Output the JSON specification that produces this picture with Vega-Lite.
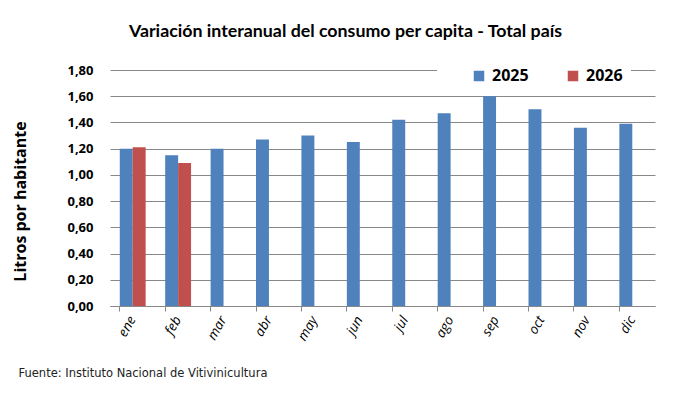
{
  "$schema": "https://vega.github.io/schema/vega-lite/v6.json",
  "width": 545,
  "height": 236,
  "autosize": {"type": "none"},
  "padding": {"left": 110, "top": 70, "right": 35, "bottom": 87},
  "background": "white",
  "config": {
    "locale": {"number": {"decimal": ",", "thousands": ".", "grouping": [3], "currency": ["", ""]}},
    "view": {"stroke": null},
    "font": "Lato"
  },
  "title": {
    "text": "Variación interanual del consumo per capita - Total país",
    "font": "Lato",
    "fontSize": 17.8,
    "fontWeight": "bold",
    "color": "black",
    "anchor": "middle",
    "frame": "group",
    "dx": -37,
    "dy": 9,
    "offset": 28
  },
  "data": {
    "values": [
      {"mes": "ene", "anio": "2025", "valor": 1.2},
      {"mes": "ene", "anio": "2026", "valor": 1.21},
      {"mes": "feb", "anio": "2025", "valor": 1.15},
      {"mes": "feb", "anio": "2026", "valor": 1.09},
      {"mes": "mar", "anio": "2025", "valor": 1.2},
      {"mes": "abr", "anio": "2025", "valor": 1.27},
      {"mes": "may", "anio": "2025", "valor": 1.3},
      {"mes": "jun", "anio": "2025", "valor": 1.25},
      {"mes": "jul", "anio": "2025", "valor": 1.42},
      {"mes": "ago", "anio": "2025", "valor": 1.47},
      {"mes": "sep", "anio": "2025", "valor": 1.6},
      {"mes": "oct", "anio": "2025", "valor": 1.5},
      {"mes": "nov", "anio": "2025", "valor": 1.36},
      {"mes": "dic", "anio": "2025", "valor": 1.39}
    ]
  },
  "mark": {"type": "bar"},
  "encoding": {
    "x": {
      "field": "mes",
      "type": "nominal",
      "sort": ["ene","feb","mar","abr","may","jun","jul","ago","sep","oct","nov","dic"],
      "scale": {"paddingInner": 0.43, "paddingOuter": 0.215},
      "axis": {
        "title": "Fuente: Instituto Nacional  de Vitivinicultura",
        "titleFont": "DejaVu Sans",
        "titleFontSize": 11.5,
        "titleFontWeight": "normal",
        "titleColor": "#222",
        "titleAnchor": "start",
        "titleAlign": "left",
        "titleBaseline": "middle",
        "titleX": -92,
        "titleY": 67,
        "labelAngle": -60,
        "labelAlign": "right",
        "labelBaseline": "middle",
        "labelFontSize": 13.5,
        "labelFontStyle": "italic",
        "labelFont": "Open Sans",
        "labelColor": "black",
        "labelPadding": 6,
        "bandPosition": 0,
        "ticks": true,
        "tickSize": 5,
        "tickColor": "#888",
        "domainColor": "#888",
        "grid": false
      }
    },
    "xOffset": {"field": "anio", "type": "nominal", "scale": {"domain": ["2025", "2026"], "paddingInner": 0, "paddingOuter": 0}},
    "y": {
      "field": "valor",
      "type": "quantitative",
      "scale": {"domain": [0, 1.8], "nice": false},
      "axis": {
        "title": "Litros por  habitante",
        "titleFont": "Open Sans",
        "titleFontSize": 16,
        "titleFontWeight": "bold",
        "titleColor": "black",
        "titleX": -90,
        "titleY": 131,
        "titleAlign": "center",
        "titleBaseline": "middle",
        "values": [0, 0.2, 0.4, 0.6, 0.8, 1.0, 1.2, 1.4, 1.6, 1.8],
        "format": ".2f",
        "labelFont": "Open Sans",
        "labelFontSize": 13,
        "labelFontWeight": "bold",
        "labelColor": "black",
        "labelPadding": 17,
        "ticks": false,
        "domain": false,
        "grid": true,
        "gridColor": "#888",
        "gridWidth": 1
      }
    },
    "color": {
      "field": "anio",
      "type": "nominal",
      "scale": {"domain": ["2025", "2026"], "range": ["#4F81BD", "#C0504D"]},
      "legend": {
        "title": null,
        "orient": "none",
        "direction": "horizontal",
        "legendX": 327,
        "legendY": -10,
        "fillColor": "white",
        "padding": 8,
        "symbolOffset": 26,
        "symbolType": "square",
        "symbolSize": 110,
        "symbolStrokeWidth": 0,
        "symbolOpacity": 1,
        "labelFont": "Open Sans",
        "labelFontSize": 16,
        "labelFontWeight": "bold",
        "labelColor": "black",
        "labelOffset": 5,
        "columnPadding": 10
      }
    }
  }
}
